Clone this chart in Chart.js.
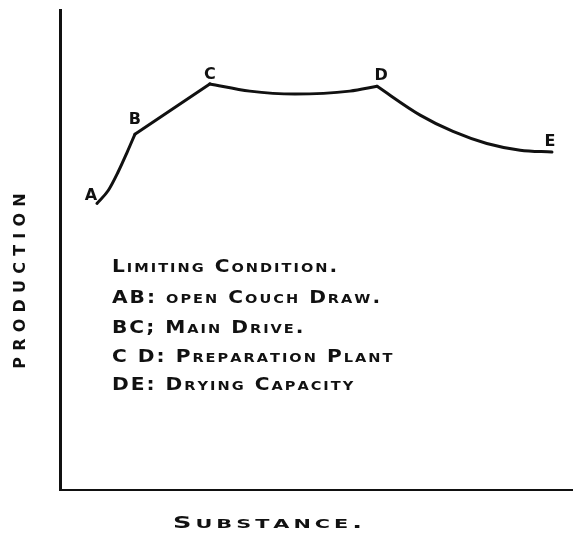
<!DOCTYPE html>
<html>
<head>
<meta charset="utf-8">
<script src="https://cdn.jsdelivr.net/npm/chart.js@4.4.1/dist/chart.umd.min.js"></script>
<style>
  body { margin: 0; background: #fff; }
  #wrap { width: 573px; height: 534px; }
</style>
</head>
<body>
<div id="wrap"><canvas id="myChart"></canvas></div>
<script>
// curve segments (substance vs production, arbitrary units 0-100)
let abX = [7.2, 9.4, 11.3, 13.1, 14.6];
let abY = [59.7, 62.4, 66.2, 70.4, 74.1];
let bcX = [14.6, 29.2];
let bcY = [74.1, 84.6];
let cdX = [29.2, 37.0, 45.8, 56.5, 61.8];
let cdY = [84.6, 83.1, 82.5, 83.1, 84.1];
let deX = [61.8, 70.2, 76.6, 83.2, 89.7, 95.9];
let deY = [84.1, 78.1, 74.7, 72.2, 70.8, 70.4];

let pointNames = ["A", "B", "C", "D", "E"];
let pointX = [abX[0], bcX[0], cdX[0], deX[0], deX[deX.length - 1]];
let pointY = [abY[0], bcY[0], cdY[0], deY[0], deY[deY.length - 1]];

// legend text, lowercase letters get drawn as small capitals
let notes = [
    "Limiting Condition.",
    "AB: open Couch Draw.",
    "BC; Main Drive.",
    "C D: Preparation Plant",
    "DE: Drying Capacity"
];
let xTitle = "Substance.";
let yTitle = "PRODUCTION";

function pts(xs, ys) {
    return xs.map((x, i) => ({ x: x, y: ys[i] }));
}

function segment(xs, ys, curved) {
    return {
        data: pts(xs, ys),
        showLine: true,
        borderColor: "#111",
        borderWidth: 3,
        borderCapStyle: "round",
        borderJoinStyle: "round",
        pointRadius: 0,
        cubicInterpolationMode: curved ? "monotone" : "default",
        tension: 0
    };
}

// small caps: capitals large, lowercase drawn as smaller capitals,
// each glyph stretched sideways a bit
function capsWidth(ctx, text, big, small, gap, stretch) {
    let w = 0;
    for (let ch of text) {
        let lower = ch !== ch.toUpperCase();
        ctx.font = "bold " + (lower ? small : big) + "px 'DejaVu Sans'";
        w += ctx.measureText(ch.toUpperCase()).width * stretch + gap;
    }
    return w - gap;
}

function drawCaps(ctx, text, x, y, big, small, gap, stretch) {
    for (let ch of text) {
        let lower = ch !== ch.toUpperCase();
        ctx.font = "bold " + (lower ? small : big) + "px 'DejaVu Sans'";
        let c = ch.toUpperCase();
        ctx.save();
        ctx.translate(x, y);
        ctx.scale(stretch, 1);
        ctx.fillText(c, 0, 0);
        ctx.restore();
        x += ctx.measureText(c).width * stretch + gap;
    }
}

let labelPlugin = {
    id: "labels",
    afterDraw(chart) {
        let ctx = chart.ctx;
        let xs = chart.scales.x, ys = chart.scales.y;
        ctx.save();
        ctx.fillStyle = "#111";

        // letters at the corners of the curve
        let offs = [[-6, -8], [0, -14], [0, -9], [4, -10], [-2, -10]];
        ctx.textAlign = "center";
        ctx.textBaseline = "middle";
        ctx.font = "bold 16px 'DejaVu Sans'";
        pointNames.forEach((n, i) => {
            ctx.fillText(n, xs.getPixelForValue(pointX[i]) + offs[i][0], ys.getPixelForValue(pointY[i]) + offs[i][1]);
        });

        ctx.textAlign = "left";
        ctx.textBaseline = "alphabetic";

        // limiting condition notes
        let lineY = [272, 303, 333, 362, 390];
        notes.forEach((t, i) => {
            drawCaps(ctx, t, 112, lineY[i], 18, 13, 2, 1.12);
        });

        // axis titles
        drawCaps(ctx, xTitle, 173, 528, 16, 13, 4, 1.6);

        ctx.translate(25, 281);
        ctx.rotate(-Math.PI / 2);
        let w = capsWidth(ctx, yTitle, 16, 16, 6.2, 1);
        drawCaps(ctx, yTitle, -w / 2, 0, 16, 16, 6.2, 1);
        ctx.restore();
    }
};

let ctx = document.getElementById("myChart").getContext("2d");

let myChart = new Chart(ctx, {
    type: "scatter",
    data: {
        datasets: [
            segment(abX, abY, true),
            segment(bcX, bcY, false),
            segment(cdX, cdY, true),
            segment(deX, deY, true)
        ]
    },
    options: {
        responsive: true,
        maintainAspectRatio: false,
        animation: false,
        layout: { padding: { left: 52, top: 10, right: 0, bottom: 36 } },
        plugins: {
            legend: { display: false },
            tooltip: { enabled: false }
        },
        scales: {
            x: {
                min: 0, max: 100,
                grid: { display: false },
                ticks: { display: false },
                border: { display: true, color: "#111", width: 2 }
            },
            y: {
                min: 0, max: 100,
                grid: { display: false },
                ticks: { display: false },
                border: { display: true, color: "#111", width: 3 }
            }
        }
    },
    plugins: [labelPlugin]
});
</script>
</body>
</html>
